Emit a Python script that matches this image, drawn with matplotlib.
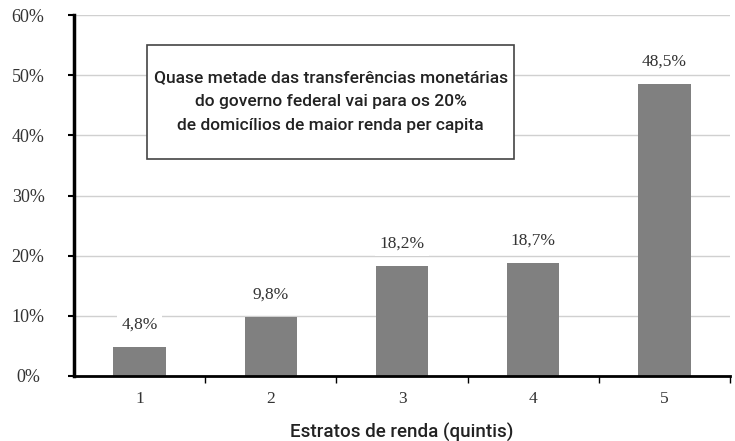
import numpy as np
import matplotlib.pyplot as plt
from matplotlib.patches import Rectangle

## Data
quintis = ["1", "2", "3", "4", "5"]
valores = [4.8, 9.8, 18.2, 18.7, 48.5]
rotulos = ["4,8%", "9,8%", "18,2%", "18,7%", "48,5%"]
yticks = [0, 10, 20, 30, 40, 50, 60]
ytick_labels = ["0%", "10%", "20%", "30%", "40%", "50%", "60%"]
titulo = ("Quase metade das transferências monetárias\n"
          "do governo federal vai para os 20%\n"
          "de domicílios de maior renda per capita")

serif = ["Liberation Serif", "DejaVu Serif"]
narrow = ["Roboto", "DejaVu Sans"]

fig = plt.figure(figsize=(7.35, 4.41), dpi=100)
ax = fig.add_axes([74/735, 1 - 376/441, 656/735, 361/441])

x = np.arange(len(quintis))
ax.bar(x, valores, width=0.40, color="#808080", zorder=2)

for xi, v, lab in zip(x, valores, rotulos):
    ax.text(xi, v + 3.8, lab, ha="center", va="center", fontsize=12.5,
            family=serif, color="#333333", zorder=3,
            bbox=dict(facecolor="white", edgecolor="none", pad=3))

ax.set_xlim(-0.5, 4.5)
ax.set_ylim(0, 60)
ax.set_yticks(yticks)
ax.set_yticklabels(ytick_labels, family=serif, fontsize=13, color="#333333")
ax.set_xticks(x)
ax.set_xticklabels(quintis, family=serif, fontsize=12.5, color="#333333")
ax.set_xticks(np.arange(0.5, 4.6, 1), minor=True)
ax.tick_params(axis="x", which="major", length=0, pad=11)
ax.tick_params(axis="x", which="minor", length=5, width=1, direction="out")
ax.tick_params(axis="y", length=4, width=1.5, pad=29)
for lab in ax.get_yticklabels():
    lab.set_horizontalalignment("center")

ax.grid(axis="y", color="#d0d0d0", linewidth=1, zorder=0)
for s in ["top", "right"]:
    ax.spines[s].set_visible(False)
ax.spines["left"].set_linewidth(2.5)
ax.spines["bottom"].set_linewidth(2)

ax.set_xlabel("Estratos de renda (quintis)", family=narrow, fontsize=13.5,
              weight="medium", color="#222222", labelpad=11)

# caixa de destaque
ax.add_patch(Rectangle((0.057, 36.1), 2.80, 18.9, facecolor="white",
                       edgecolor="#444444", linewidth=1.2, zorder=4))
ax.text(1.457, 45.6, titulo, ha="center", va="center", fontsize=12.5,
        family=narrow, weight="medium", color="#222222", linespacing=1.75,
        zorder=5)

fig.savefig("out.png", dpi=100)
